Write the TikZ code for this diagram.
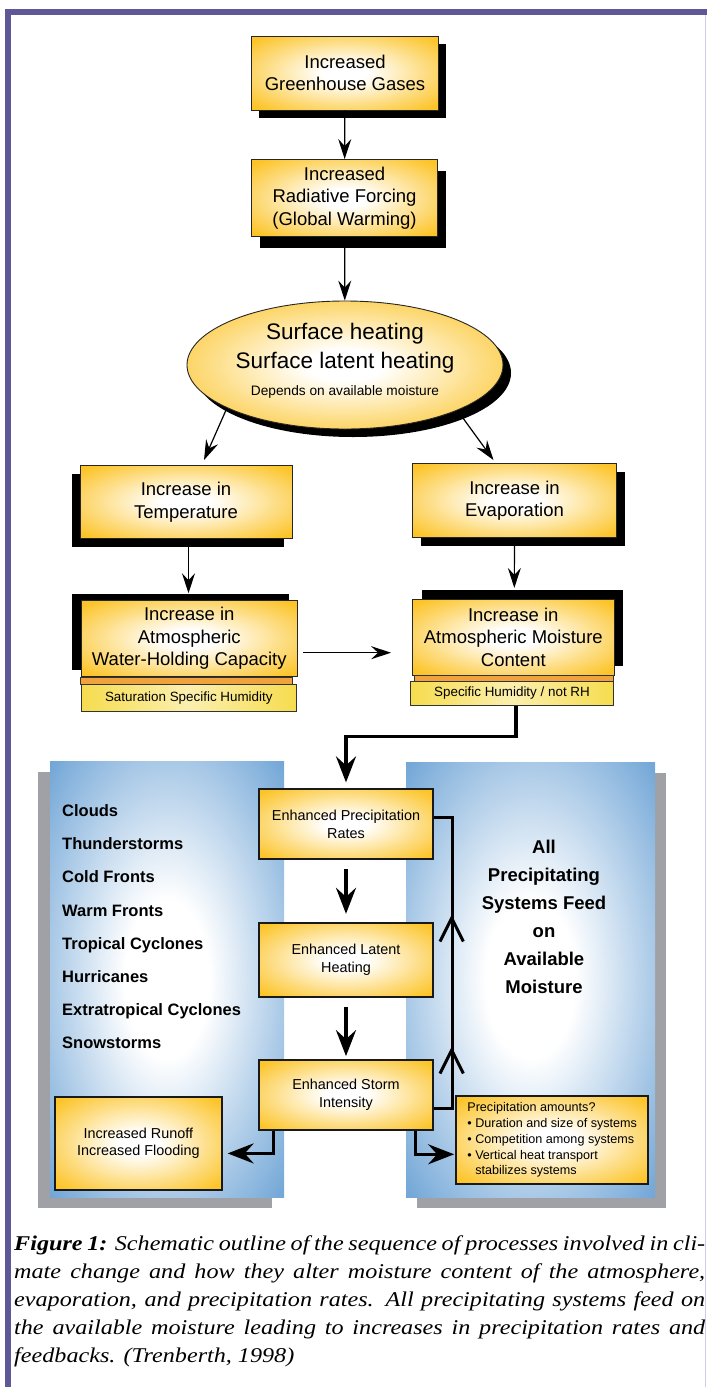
\documentclass[tikz,border=0pt]{standalone}
\usepackage{fontspec}
\setmainfont{Liberation Sans}
\newfontfamily\capfont[FakeStretch=1.15]{Liberation Serif}
\usetikzlibrary{arrows.meta,shapes.geometric,shadows}

\definecolor{framepurple}{RGB}{94,88,150}
\definecolor{frameedge}{RGB}{208,204,232}
\definecolor{boxyellow}{RGB}{252,196,40}
\definecolor{stripyellow}{RGB}{246,220,78}
\definecolor{striporange}{RGB}{240,162,60}
\definecolor{panelblue}{RGB}{104,160,212}
\definecolor{panelgray}{RGB}{160,161,166}

\pgfdeclareradialshading{boxglow}{\pgfpoint{0bp}{0bp}}{%
  color(0bp)=(white); color(6bp)=(white); color(33bp)=(boxyellow); color(50bp)=(boxyellow)}
\pgfdeclareradialshading{panelglow}{\pgfpoint{0bp}{0bp}}{%
  color(0bp)=(white); color(9bp)=(white); color(37bp)=(panelblue); color(50bp)=(panelblue)}

\tikzset{
  flowbox/.style={draw=black!85, line width=0.9pt, shade, shading=boxglow, align=center,
    inner sep=0pt, font=\fontsize{18.5}{22.5}\selectfont},
  chainbox/.style={flowbox, line width=1.8pt, draw=black!90, font=\fontsize{14.4}{17.5}\selectfont},
  stripbox/.style={draw=black!80, line width=0.9pt, left color=stripyellow, right color=stripyellow,
    middle color=white!55!stripyellow, inner sep=0pt, font=\fontsize{13.4}{16}\selectfont},
  panel/.style={shade, shading=panelglow, inner sep=0pt},
  boxshadow/.style 2 args={drop shadow={shadow xshift=#1, shadow yshift=#2, fill=black, opacity=1}},
  panelshadow/.style 2 args={drop shadow={shadow xshift=#1, shadow yshift=#2, fill=panelgray, opacity=1}},
  thinarrow/.style={line width=1.2pt, -{Stealth[length=20pt,width=13pt,inset=7pt]}},
  thickarrow/.style={line width=3.4pt, -{Stealth[length=26pt,width=20pt,inset=9pt]}},
  thickline/.style={line width=3.4pt},
}

\begin{document}
\begin{tikzpicture}[x=1pt,y=-1pt]
  \useasboundingbox (0,0) rectangle (707,1387);
  % frame
  \draw[framepurple, line width=5.5pt] (8,1387) -- (8,12) -- (707,12);
  \draw[frameedge, line width=1.5pt] (705.5,15) -- (705.5,1387);

  % upper chain
  \node[flowbox, boxshadow={7pt}{-8pt}, minimum width=187pt, minimum height=74pt] (ghg) at (345,73) {Increased\\Greenhouse Gases};
  \node[flowbox, boxshadow={8pt}{-11pt}, minimum width=186pt, minimum height=77pt] (forcing) at (344.5,198) {Increased\\Radiative Forcing\\(Global Warming)};
  \node[ellipse, draw=black!85, line width=0.9pt, shade, shading=boxglow, boxshadow={8pt}{-8pt},
    minimum width=316pt, minimum height=128pt, inner sep=0pt, align=center, text depth=11pt,
    font=\fontsize{22.5}{28.3}\selectfont] (heating) at (345,365)
    {Surface heating\\Surface latent heating\\[-1pt]{\fontsize{13.7}{16}\selectfont Depends on available moisture}};

  \node[flowbox, boxshadow={-8pt}{-8pt}, minimum width=212pt, minimum height=73pt] (temp) at (186,502) {Increase in\\Temperature};
  \node[flowbox, boxshadow={8pt}{-8pt}, minimum width=204pt, minimum height=74pt] (evap) at (514.5,500.5) {Increase in\\Evaporation};

  \node[flowbox, boxshadow={-9pt}{7pt}, minimum width=216.6pt, minimum height=76pt] (water) at (189.3,638.7) {Increase in\\Atmospheric\\Water-Holding Capacity};
  \node[stripbox, minimum width=215pt, minimum height=26.7pt] (sat) at (188.8,697.7) {Saturation Specific Humidity};
  \filldraw[striporange, draw=black!80, line width=0.6pt] (water.south west) rectangle ([xshift=-4pt]sat.north east);

  \node[flowbox, boxshadow={9pt}{9pt}, minimum width=201.5pt, minimum height=75.7pt] (moist) at (513.3,637.2) {Increase in\\Atmospheric Moisture\\Content};
  \node[stripbox, minimum width=203pt, minimum height=23.5pt] (spec) at (512,693.5) {Specific Humidity / not RH};
  \filldraw[striporange, draw=black!80, line width=0.6pt] ([xshift=2pt]moist.south west) rectangle ([xshift=-1pt]spec.north east);

  \draw[thinarrow] (ghg) -- (forcing);
  \draw[thinarrow] (forcing) -- (heating);
  \draw[thinarrow] (heating.200) -- ([xshift=18pt,yshift=5pt]temp.north);
  \draw[thinarrow] (heating.338) -- ([xshift=-21pt,yshift=3pt]evap.north);
  \draw[thinarrow] ([xshift=2.5pt]temp.south) -- ([xshift=-0.8pt,yshift=7pt]water.north);
  \draw[thinarrow] (evap.south) -- ([xshift=1pt,yshift=11pt]moist.north);
  \draw[thinarrow] ([xshift=5pt,yshift=-14pt]water.east) -- ([xshift=-21pt,yshift=-15.5pt]moist.west);

  % weather systems panels
  \node[panel, panelshadow={-12pt}{-11pt}, minimum width=234pt, minimum height=436pt] (leftpanel) at (167,979) {};
  \node[panel, panelshadow={11pt}{-11pt}, minimum width=249pt, minimum height=435pt] (rightpanel) at (530.5,979.5) {};
  \node[anchor=west, align=left, inner sep=0pt, font=\bfseries\fontsize{16.5}{33.2}\selectfont] (systems) at (62,926.7)
    {Clouds\\Thunderstorms\\Cold Fronts\\Warm Fronts\\Tropical Cyclones\\Hurricanes\\Extratropical Cyclones\\Snowstorms};
  \node[align=center, inner sep=0pt, font=\bfseries\fontsize{18.5}{28}\selectfont] (feed) at (544,916.7)
    {All\\Precipitating\\Systems Feed\\on\\Available\\Moisture};

  % lower chain
  \node[chainbox, minimum width=174.6pt, minimum height=70pt] (precip) at (346,824.3) {Enhanced Precipitation\\Rates};
  \node[chainbox, minimum width=174.6pt, minimum height=74pt] (latent) at (346,959.7) {Enhanced Latent\\Heating};
  \node[chainbox, minimum width=174.6pt, minimum height=70pt] (storm) at (346,1095) {Enhanced Storm\\Intensity};
  \node[chainbox, minimum width=166.7pt, minimum height=93.3pt] (runoff) at (138.4,1143.4) {Increased Runoff\\Increased Flooding};
  \node[chainbox, align=left, minimum width=192.3pt, minimum height=88.3pt,
    font=\fontsize{12.6}{15.85}\selectfont] (amounts) at (552.2,1139.9)
    {Precipitation amounts?\\\textbullet\ Duration and size of systems\\\textbullet\ Competition among systems\\\textbullet\ Vertical heat transport\\\phantom{\textbullet\ }stabilizes systems};

  \draw[thickarrow] ([xshift=4pt]spec.south) -- ++(0,31) -| ([yshift=6pt]precip.north);
  \draw[thickarrow] ([yshift=-9pt]precip.south) -- ([yshift=8pt]latent.north);
  \draw[thickarrow] ([yshift=-9pt]latent.south) -- ([yshift=3pt]storm.north);
  \draw[thickarrow] ([xshift=-72.7pt]storm.south) |- ([xshift=5pt,yshift=-10pt]runoff.east);
  \draw[thickarrow] ([xshift=69.7pt]storm.south) |- ([xshift=-1pt,yshift=-14.4pt]amounts.west);
  \draw[thickline] ([yshift=-13.3pt]storm.east) -- ++(18.4,0) coordinate (loop) |- ([yshift=7pt]precip.east);
  \foreach \y in {918,1050}
    \draw[line width=3pt] (440,\y+23.5) -- (451.7,\y) -- (463.4,\y+23.5);

  % caption
  \node[anchor=north west, inner sep=0pt, text width=691pt, align=justify,
    font=\capfont\itshape\fontsize{21}{28}\selectfont] (caption) at (14,1235)
    {\tolerance=10000\relax\hyphenpenalty=10000\relax
     \textbf{Figure 1:} Schematic outline of the sequence of processes involved in cli-\linebreak
     mate change and how they alter moisture content of the atmosphere,\linebreak
     evaporation, and precipitation rates. All precipitating systems feed on\linebreak
     the available moisture leading to increases in precipitation rates and\linebreak
     feedbacks. (Trenberth, 1998)};
\end{tikzpicture}
\end{document}
